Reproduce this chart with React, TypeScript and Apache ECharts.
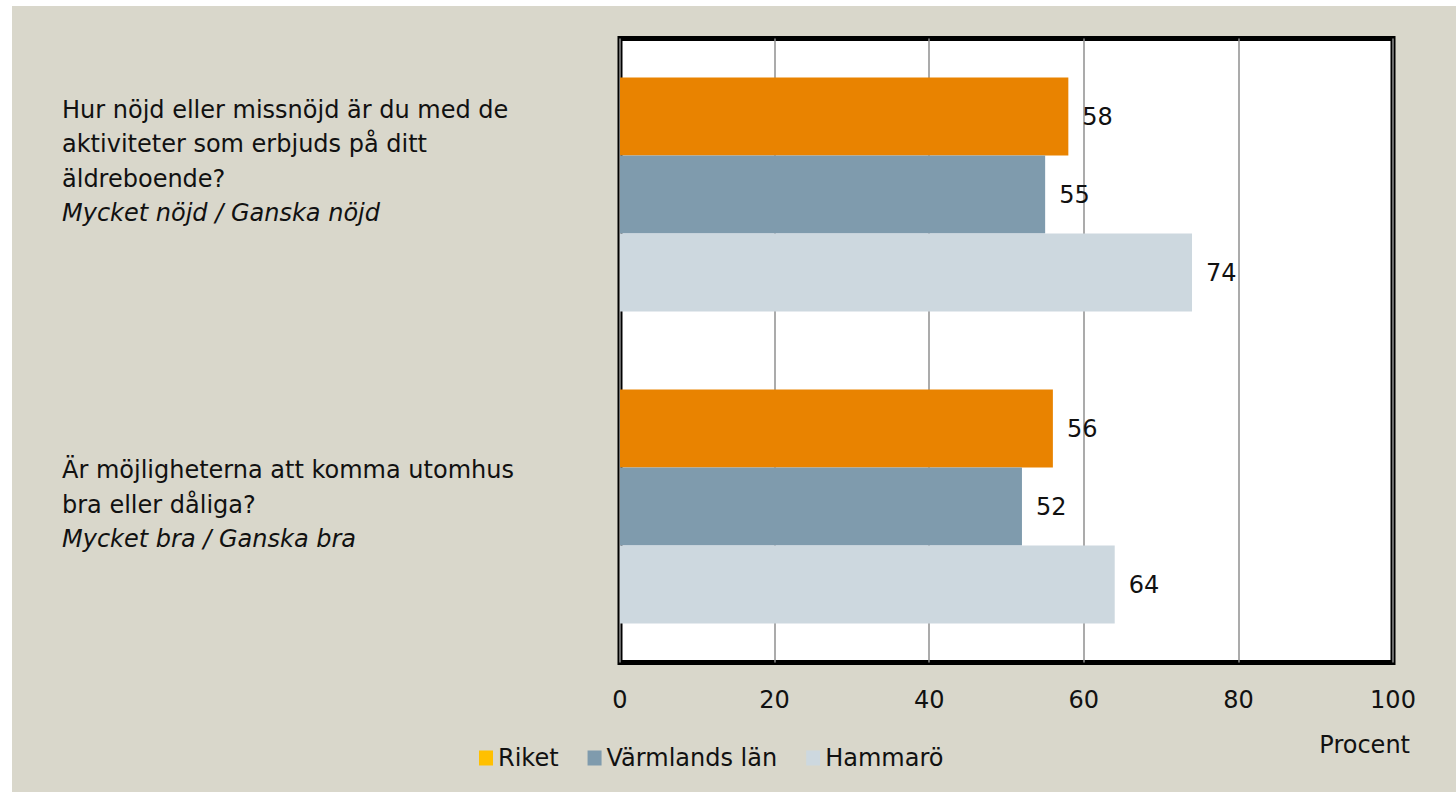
import React, { useEffect, useRef } from "react";
import * as echarts from "echarts";

const questions = [
  ["Hur nöjd eller missnöjd är du med de", "aktiviteter som erbjuds på ditt", "äldreboende?"],
  ["Är möjligheterna att komma utomhus", "bra eller dåliga?"],
];
const subtitles = ["Mycket nöjd / Ganska nöjd", "Mycket bra / Ganska bra"];
const seriesNames = ["Riket", "Värmlands län", "Hammarö"];
const riket = [58, 56];
const varmland = [55, 52];
const hammaro = [74, 64];
const xTicks = [0, 20, 40, 60, 80, 100];
const axisTitle = "Procent";

const FONT = "'DejaVu Sans', sans-serif";
const TEXT = "#111111";
const FS = 24;

export default function App() {
  const ref = useRef<HTMLDivElement>(null);
  useEffect(() => {
    document.body.style.margin = "0";
    const chart = echarts.init(ref.current!, null, { renderer: "svg" });
    const shifts = [66, 4];
    const catData = questions.map((q, i) => ({
      value: q.join(" "),
      textStyle: { padding: [0, 0, shifts[i], 0] },
    }));
    const barColors = ["#E98300", "#7F9BAD", "#CDD8DF"];
    const legendColors = ["#FFC000", "#7F9BAD", "#CDD8DF"];
    const values = [riket, varmland, hammaro];
    const labelW = 500;
    chart.setOption({
      animation: false,
      backgroundColor: "#D9D7CB",
      textStyle: { fontFamily: FONT, color: TEXT },
      grid: {
        left: 608,
        right: 63,
        top: 32.5,
        bottom: 129.5,
        show: true,
        backgroundColor: "#FFFFFF",
        borderColor: "#000000",
        borderWidth: 5,
        containLabel: false,
        outerBoundsMode: "none",
      },
      xAxis: {
        type: "value",
        min: xTicks[0],
        max: xTicks[xTicks.length - 1],
        interval: 20,
        axisLine: { show: false },
        axisTick: { show: false },
        splitLine: { show: true, lineStyle: { color: "#8F8F8F", width: 1.5 } },
        axisLabel: { fontSize: FS, color: TEXT, margin: 25, fontFamily: FONT },
      },
      yAxis: {
        type: "category",
        inverse: true,
        data: catData,
        axisLine: { show: false },
        axisTick: { show: false },
        splitLine: { show: false },
        axisLabel: {
          align: "right",
          margin: 620 - 62 - labelW,
          fontFamily: FONT,
          formatter: (_v: string, idx: number) =>
            questions[idx].map((l) => `{q|${l}}`).join("\n") + `\n{i|${subtitles[idx]}}`,
          rich: {
            q: { fontSize: FS, lineHeight: 34.5, color: TEXT, fontFamily: FONT, align: "left", width: labelW },
            i: {
              fontSize: FS,
              lineHeight: 34.5,
              color: TEXT,
              fontStyle: "italic",
              fontFamily: FONT,
              align: "left",
              width: labelW,
            },
          },
        },
      },
      legend: {
        left: 467,
        top: 740,
        padding: 0,
        itemWidth: 14,
        itemHeight: 15,
        itemGap: 29,
        icon: "rect",
        textStyle: { fontSize: FS, color: TEXT, fontFamily: FONT },
        data: seriesNames.map((n, i) => ({ name: n, itemStyle: { color: legendColors[i] } })),
      },
      graphic: [
        {
          type: "text",
          right: 46,
          top: 727,
          style: { text: axisTitle, fontSize: FS, fill: TEXT, fontFamily: FONT },
        },
      ],
      series: seriesNames.map((n, i) => ({
        name: n,
        type: "bar",
        data: values[i],
        barGap: "0%",
        barCategoryGap: "25%",
        itemStyle: { color: barColors[i] },
        label: {
          show: true,
          position: "right",
          distance: 14,
          fontSize: FS,
          color: TEXT,
          fontFamily: FONT,
        },
      })),
    });
    return () => chart.dispose();
  }, []);
  return (
    <div style={{ position: "absolute", left: 0, top: 0, width: 1456, height: 792, background: "#FFFFFF" }}>
      <div ref={ref} style={{ position: "absolute", left: 12, top: 6, width: 1444, height: 786 }} />
    </div>
  );
}
